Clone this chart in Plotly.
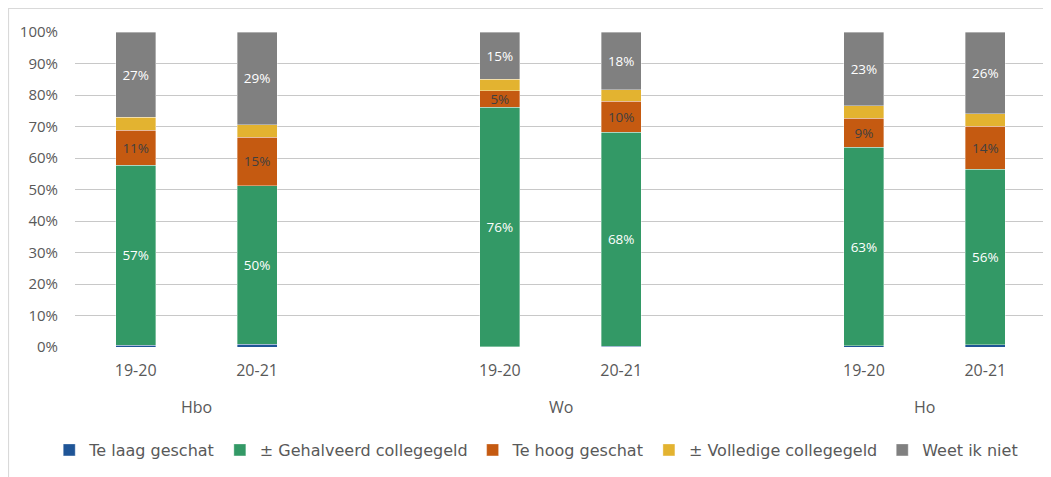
import plotly.graph_objects as go

groups = ["Hbo", "Wo", "Ho"]
years = ["19-20", "20-21"]

series_names = ["Te laag geschat", "± Gehalveerd collegegeld", "Te hoog geschat",
                "± Volledige collegegeld", "Weet ik niet"]
colors = ["#1F5597", "#339966", "#C55A11", "#E3B330", "#808080"]
label_colors = [None, "#FFFFFF", "#404040", None, "#FFFFFF"]

# values per bar in order: Hbo 19-20, Hbo 20-21, Wo 19-20, Wo 20-21, Ho 19-20, Ho 20-21
te_laag = [0.5, 0.8, 0.1, 0.2, 0.4, 0.7]
gehalveerd = [57.2, 50.4, 76.0, 67.9, 63.0, 55.8]
te_hoog = [11.1, 15.4, 5.3, 9.9, 9.3, 13.6]
volledig = [4.1, 4.0, 3.6, 3.6, 3.9, 4.0]
weet_niet = [27.1, 29.4, 15.0, 18.4, 23.4, 25.9]

series_values = [te_laag, gehalveerd, te_hoog, volledig, weet_niet]

y_ticks = [0, 10, 20, 30, 40, 50, 60, 70, 80, 90, 100]

# x positions: each group takes 3 slots (2 bars + 1 gap)
xpos = []
xlabels = []
for gi, g in enumerate(groups):
    for yi, yr in enumerate(years):
        xpos.append(gi * 3 + yi)
        xlabels.append(yr)

fig = go.Figure()
for name, vals, col, lcol in zip(series_names, series_values, colors, label_colors):
    if lcol is not None:
        text = [f"{round(v)}%" for v in vals]
    else:
        text = None
    fig.add_trace(go.Bar(
        x=xpos, y=vals, name=name, width=0.33,
        marker=dict(color=col, line=dict(color="rgba(255,255,255,0.6)", width=0.6)),
        text=text, textposition="inside" if text else "none",
        insidetextanchor="middle", textangle=0,
        textfont=dict(color=lcol or "#FFFFFF", size=13.5, family="Open Sans"),
        hoverinfo="skip",
    ))

for gi, g in enumerate(groups):
    fig.add_annotation(x=gi * 3 + 0.5, y=-0.19, xref="x", yref="paper", text=g,
                       showarrow=False, yanchor="middle",
                       font=dict(family="Open Sans", size=16, color="#595959"))

# chart border (outer frame, left and top edges)
fig.add_shape(type="rect", xref="paper", yref="paper",
              x0=-0.0685, x1=1.02, y0=-0.45, y1=1.075,
              line=dict(color="#D9D9D9", width=1.2), fillcolor="rgba(0,0,0,0)", layer="below")

fig.update_layout(
    barmode="stack",
    width=1043, height=469,
    margin=dict(l=67, r=5, t=24, b=130),
    plot_bgcolor="white", paper_bgcolor="white",
    font=dict(family="Open Sans", color="#595959"),
    uniformtext=dict(minsize=13.5, mode="show"),
    xaxis=dict(range=[-0.5, 7.5], tickvals=xpos, ticktext=xlabels, showgrid=False,
               zeroline=False, showline=False, ticks="", ticklabelstandoff=12,
               tickfont=dict(family="Open Sans", size=16, color="#595959")),
    yaxis=dict(range=[0, 100], tickvals=y_ticks, ticktext=[f"{v}%" for v in y_ticks],
               showgrid=True, gridcolor="#C8C8C8", gridwidth=1.4, zeroline=False,
               showline=False, ticks="", ticklabelstandoff=16,
               tickfont=dict(family="Open Sans", size=15, color="#595959")),
    showlegend=True,
    legend=dict(orientation="h", x=0.475, xanchor="center", y=-0.327, yanchor="middle",
                font=dict(family="DejaVu Sans", size=16, color="#595959"),
                traceorder="normal"),
)

fig.write_html("out.html")
